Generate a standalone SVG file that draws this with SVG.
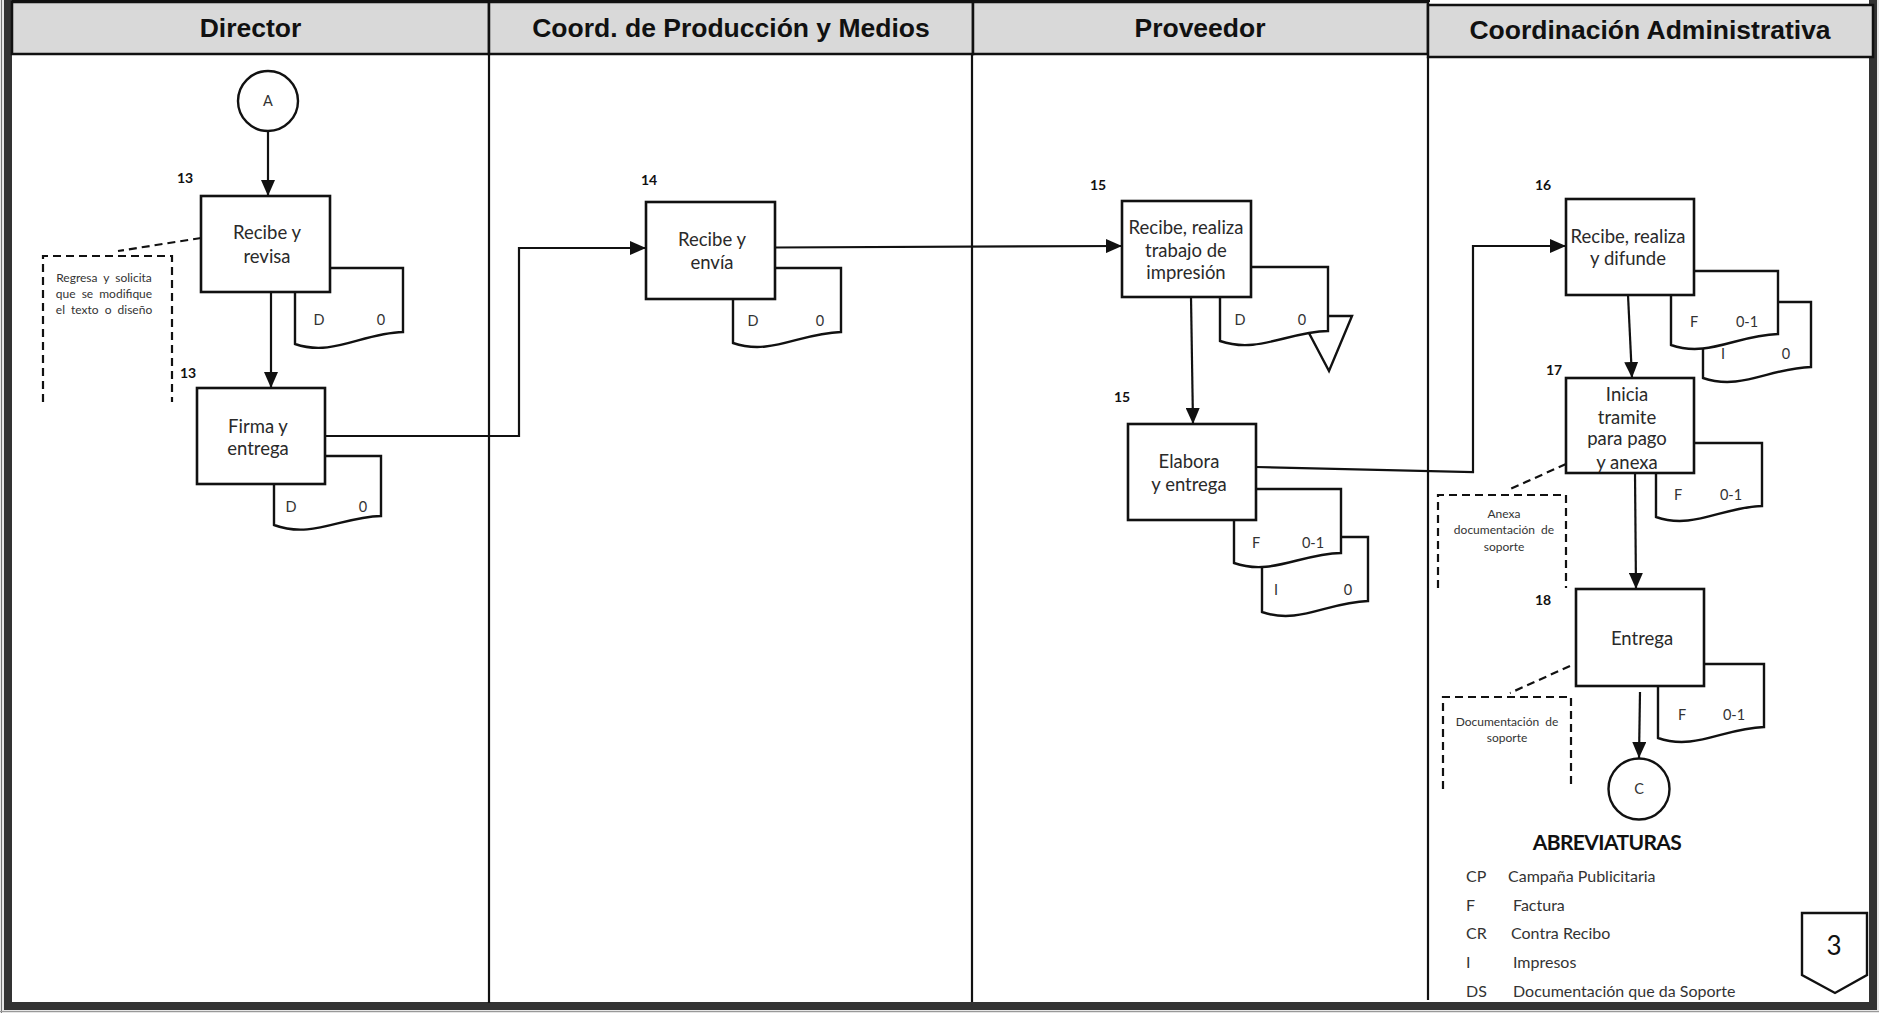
<svg xmlns="http://www.w3.org/2000/svg" width="1879" height="1013" viewBox="0 0 1879 1013">
  <style>
    .hdr { fill: #d9d9d9; stroke: #111; stroke-width: 2.5; }
    .hdr-t { font-family: "Liberation Sans", Arial, sans-serif; font-weight: bold; font-size: 26.5px; fill: #111; text-anchor: middle; }
    .lane { stroke: #111; stroke-width: 2.2; fill: none; }
    .box { fill: #fff; stroke: #111; stroke-width: 2.6; }
    .doc { fill: #fff; stroke: #111; stroke-width: 2.4; stroke-linejoin: miter; }
    .t { font-family: Lato, "Open Sans", sans-serif; font-size: 18.5px; fill: #2a2a2a; text-anchor: middle; }
    .num { font-family: Lato, "Open Sans", sans-serif; font-weight: bold; font-size: 14px; fill: #111; text-anchor: middle; }
    .dl { font-family: Lato, "Open Sans", sans-serif; font-size: 14.5px; fill: #333; text-anchor: middle; }
    .note { font-family: Lato, "Open Sans", sans-serif; font-size: 12px; word-spacing: 3px; fill: #333; text-anchor: middle; }
    .dash { fill: none; stroke: #111; stroke-width: 2.2; stroke-dasharray: 8 5; }
    .flow { fill: none; stroke: #111; stroke-width: 2.2; marker-end: url(#arrow); }
    .conn { fill: #fff; stroke: #111; stroke-width: 2.4; }
    .leg { font-family: Lato, "Open Sans", sans-serif; font-size: 16px; fill: #333; }
  </style>
  <defs>
    <marker id="arrow" markerWidth="16" markerHeight="14" refX="16" refY="7" orient="auto" markerUnits="userSpaceOnUse">
      <path d="M0,0 L16,7 L0,14 Z" fill="#111"/>
    </marker>
  </defs>

  <!-- page frame -->
  <rect x="0" y="0" width="1879" height="1013" fill="#e6e6e6"/>
  <rect x="8" y="-4" width="1865" height="1010" fill="#fff" stroke="#333" stroke-width="8"/>
  <line x1="1.5" y1="0" x2="1.5" y2="1013" stroke="#777" stroke-width="1"/>
  <line x1="0" y1="1011.5" x2="1879" y2="1011.5" stroke="#999" stroke-width="1"/>
  <line x1="12" y1="1" x2="1430" y2="1" stroke="#111" stroke-width="2"/>

  <!-- swimlane headers -->
  <g id="lanes">
    <rect class="hdr" x="12" y="2" width="477" height="52"/>
    <rect class="hdr" x="489" y="2" width="484" height="52"/>
    <rect class="hdr" x="973" y="2" width="455" height="52"/>
    <rect class="hdr" x="1428" y="5" width="445" height="52"/>
    <text class="hdr-t" x="250.5" y="37">Director</text>
    <text class="hdr-t" x="731" y="37">Coord. de Producción y Medios</text>
    <text class="hdr-t" x="1200" y="37">Proveedor</text>
    <text class="hdr-t" x="1650" y="39">Coordinación Administrativa</text>
    <line class="lane" x1="489" y1="54" x2="489" y2="1003"/>
    <line class="lane" x1="972" y1="54" x2="972" y2="1002"/>
    <line class="lane" x1="1428" y1="57" x2="1428" y2="1000"/>
  </g>

  <!-- connectors -->
  <g id="connectors">
    <line class="flow" x1="268" y1="131" x2="268" y2="196"/>
    <line class="flow" x1="271" y1="292" x2="271" y2="388"/>
    <polyline class="flow" points="325,436 519,436 519,248 646,248"/>
    <line class="flow" x1="775" y1="247.5" x2="1122" y2="246"/>
    <line class="flow" x1="1191" y1="297" x2="1193" y2="424"/>
    <polyline class="flow" points="1256,467 1473,472 1473,246 1566,246"/>
    <line class="flow" x1="1628" y1="295" x2="1632" y2="378"/>
    <line class="flow" x1="1635" y1="473" x2="1636" y2="589"/>
    <line class="flow" x1="1640" y1="692" x2="1639" y2="758"/>
    <line class="dash" x1="201" y1="238" x2="118" y2="251"/>
    <line class="dash" x1="1566" y1="464" x2="1508" y2="490"/>
    <line class="dash" x1="1570" y1="666" x2="1510" y2="693"/>
  </g>

  <!-- on-page connector A -->
  <g id="conA">
    <circle class="conn" cx="268" cy="101" r="30"/>
    <text class="dl" x="268" y="106">A</text>
  </g>

  <!-- step 13: Recibe y revisa -->
  <g id="n13a">
    <path class="doc" d="M295,268 H403 V332 C362,333 333,357 295,344 Z"/>
    <rect class="box" x="201" y="196" width="129" height="96"/>
    <text class="num" x="185" y="183">13</text>
    <text class="t" x="267" y="239">Recibe y</text>
    <text class="t" x="267" y="263">revisa</text>
    <text class="dl" x="319" y="325">D</text>
    <text class="dl" x="381" y="325">0</text>
  </g>

  <!-- note on step 13 -->
  <g id="note13">
    <path class="dash" d="M43,402 V256 H172 V402"/>
    <text class="note" x="104" y="282">Regresa y solicita</text>
    <text class="note" x="104" y="298">que se modifique</text>
    <text class="note" x="104" y="314">el texto o diseño</text>
  </g>

  <!-- step 13: Firma y entrega -->
  <g id="n13b">
    <path class="doc" d="M274,456 H381 V516 C341,517 312,539 274,525 Z"/>
    <rect class="box" x="197" y="388" width="128" height="96"/>
    <text class="num" x="188" y="378">13</text>
    <text class="t" x="258" y="433">Firma y</text>
    <text class="t" x="258" y="455">entrega</text>
    <text class="dl" x="291" y="512">D</text>
    <text class="dl" x="363" y="512">0</text>
  </g>

  <!-- step 14 -->
  <g id="n14">
    <path class="doc" d="M733,268 H841 V332 C800,333 771,356 733,343 Z"/>
    <rect class="box" x="646" y="202" width="129" height="97"/>
    <text class="num" x="649" y="185">14</text>
    <text class="t" x="712" y="246">Recibe y</text>
    <text class="t" x="712" y="269">envía</text>
    <text class="dl" x="753" y="326">D</text>
    <text class="dl" x="820" y="326">0</text>
  </g>

  <!-- step 15: Recibe, realiza trabajo de impresión -->
  <g id="n15a">
    <polygon class="doc" points="1300,316 1352,316 1329,371"/>
    <path class="doc" d="M1220,267 H1328 V331 C1287,332 1258,354 1220,341 Z"/>
    <rect class="box" x="1122" y="201" width="129" height="96"/>
    <text class="num" x="1098" y="190">15</text>
    <text class="t" x="1186" y="234">Recibe, realiza</text>
    <text class="t" x="1186" y="257">trabajo de</text>
    <text class="t" x="1186" y="279">impresión</text>
    <text class="dl" x="1240" y="325">D</text>
    <text class="dl" x="1302" y="325">0</text>
  </g>

  <!-- step 15: Elabora y entrega -->
  <g id="n15b">
    <path class="doc" d="M1262,537 H1368 V601 C1328,602 1299,625 1262,612 Z"/>
    <path class="doc" d="M1234,489 H1341 V553 C1300,554 1271,576 1234,563 Z"/>
    <rect class="box" x="1128" y="424" width="128" height="96"/>
    <text class="num" x="1122" y="402">15</text>
    <text class="t" x="1189" y="468">Elabora</text>
    <text class="t" x="1189" y="491">y entrega</text>
    <text class="dl" x="1256" y="548">F</text>
    <text class="dl" x="1313" y="548">0-1</text>
    <text class="dl" x="1276" y="595">I</text>
    <text class="dl" x="1348" y="595">0</text>
  </g>

  <!-- step 16 -->
  <g id="n16">
    <path class="doc" d="M1703,302 H1811 V367 C1770,368 1741,391 1703,378 Z"/>
    <path class="doc" d="M1671,271 H1778 V334 C1737,335 1708,358 1671,345 Z"/>
    <rect class="box" x="1566" y="199" width="128" height="96"/>
    <text class="num" x="1543" y="190">16</text>
    <text class="t" x="1628" y="243">Recibe, realiza</text>
    <text class="t" x="1628" y="265">y difunde</text>
    <text class="dl" x="1694" y="327">F</text>
    <text class="dl" x="1747" y="327">0-1</text>
    <text class="dl" x="1723" y="359">I</text>
    <text class="dl" x="1786" y="359">0</text>
  </g>

  <!-- step 17 -->
  <g id="n17">
    <path class="doc" d="M1656,443 H1762 V506 C1722,507 1693,530 1656,517 Z"/>
    <rect class="box" x="1566" y="378" width="128" height="95"/>
    <text class="num" x="1554" y="375">17</text>
    <text class="t" x="1627" y="401">Inicia</text>
    <text class="t" x="1627" y="424">tramite</text>
    <text class="t" x="1627" y="445">para pago</text>
    <text class="t" x="1627" y="469">y anexa</text>
    <text class="dl" x="1678" y="500">F</text>
    <text class="dl" x="1731" y="500">0-1</text>
  </g>

  <!-- note on step 17 -->
  <g id="note17">
    <path class="dash" d="M1438,588 V495 H1566 V588"/>
    <text class="note" x="1504" y="518">Anexa</text>
    <text class="note" x="1504" y="534">documentación de</text>
    <text class="note" x="1504" y="551">soporte</text>
  </g>

  <!-- step 18 -->
  <g id="n18">
    <path class="doc" d="M1658,664 H1764 V727 C1724,728 1695,751 1658,738 Z"/>
    <rect class="box" x="1576" y="589" width="128" height="97"/>
    <text class="num" x="1543" y="605">18</text>
    <text class="t" x="1642" y="645">Entrega</text>
    <text class="dl" x="1682" y="720">F</text>
    <text class="dl" x="1734" y="720">0-1</text>
  </g>

  <!-- note on step 18 -->
  <g id="note18">
    <path class="dash" d="M1443,789 V697 H1571 V789"/>
    <text class="note" x="1507" y="726">Documentación de</text>
    <text class="note" x="1507" y="742">soporte</text>
  </g>

  <!-- on-page connector C -->
  <g id="conC">
    <circle class="conn" cx="1639" cy="789" r="30.5"/>
    <text class="dl" x="1639" y="794">C</text>
  </g>

  <!-- abbreviations legend -->
  <g id="legend">
    <text x="1607" y="850" font-family="Lato, 'Open Sans', sans-serif" font-weight="bold" font-size="21" letter-spacing="-0.6" fill="#111" text-anchor="middle">ABREVIATURAS</text>
    <text class="leg" x="1466" y="882">CP</text>
    <text class="leg" x="1508" y="882">Campaña Publicitaria</text>
    <text class="leg" x="1466" y="911">F</text>
    <text class="leg" x="1513" y="911">Factura</text>
    <text class="leg" x="1466" y="939">CR</text>
    <text class="leg" x="1511" y="939">Contra Recibo</text>
    <text class="leg" x="1466" y="968">I</text>
    <text class="leg" x="1513" y="968">Impresos</text>
    <text class="leg" x="1466" y="997">DS</text>
    <text class="leg" x="1513" y="997">Documentación que da Soporte</text>
  </g>

  <!-- page marker -->
  <g id="page">
    <polygon points="1802,913 1867,913 1867,975 1835,993 1802,975" fill="#fff" stroke="#111" stroke-width="2.4"/>
    <text x="1834" y="955" font-family="Lato, 'Open Sans', sans-serif" font-size="26" fill="#111" text-anchor="middle">3</text>
  </g>
</svg>
